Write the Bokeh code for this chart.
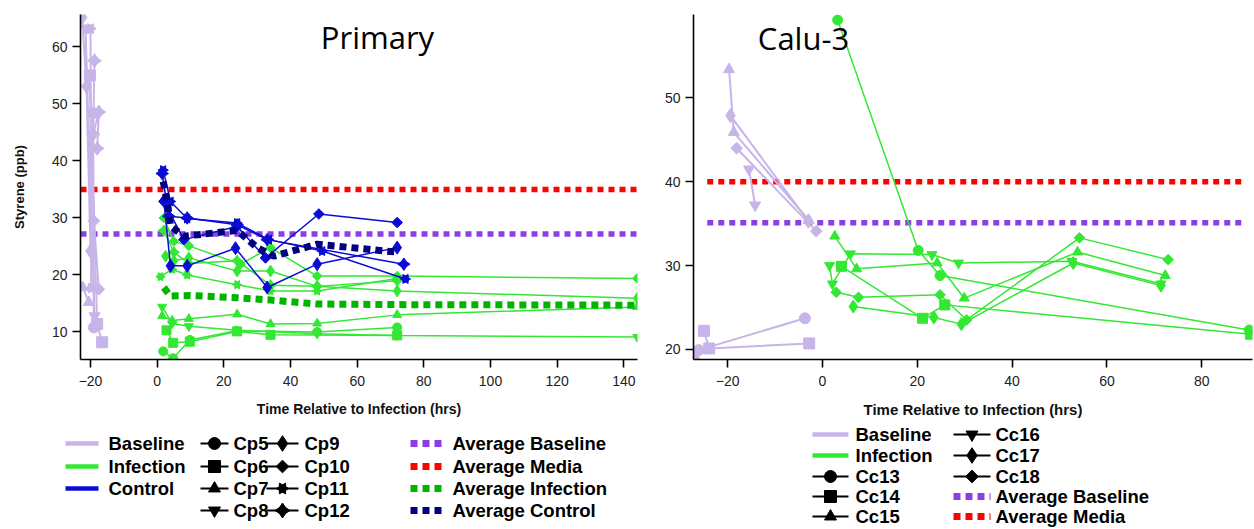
import numpy as np
from bokeh.plotting import figure
from bokeh.models import ColumnDataSource, Range1d, FixedTicker, Label
from bokeh.layouts import row, column
from bokeh.core.properties import value
from bokeh.embed import file_html
from bokeh.resources import INLINE

# ------------------------------------------------------------------
# DATA  -- Primary cells (Cp5..Cp12)
# ------------------------------------------------------------------
cp_markers = {"Cp5": "circle", "Cp6": "square", "Cp7": "triangle", "Cp8": "inverted_triangle",
              "Cp9": "thin_diamond", "Cp10": "diamond", "Cp11": "bowtie", "Cp12": "star4"}

prim_base_t = {"Cp5": [-19.2, -19.0], "Cp6": [-20.2, -18.0, -16.5], "Cp7": [-22.3, -20.5],
               "Cp8": [-21.5, -18.8], "Cp9": [-22.5, -21.2, -20.0], "Cp10": [-20.2, -19.0, -17.5],
               "Cp11": [-20.0, -19.8], "Cp12": [-18.8, -19.2, -17.5, -18.0]}
prim_base_y = {"Cp5": [48.4, 10.8], "Cp6": [55.0, 11.4, 8.2], "Cp7": [17.8, 15.2],
               "Cp8": [63.3, 12.8], "Cp9": [65.2, 53.1, 24.2], "Cp10": [55.0, 29.5, 17.5],
               "Cp11": [63.2, 17.7], "Cp12": [57.6, 44.7, 48.6, 42.2]}

prim_inf_t = {"Cp5": [1.8, 4.8, 9.8, 23.8, 48, 72], "Cp6": [2.8, 4.8, 9.8, 24, 34, 72],
              "Cp7": [1.5, 4.5, 9.5, 24, 34, 48, 72, 144], "Cp8": [1.5, 4.5, 9.5, 24, 48, 72, 144],
              "Cp9": [2.5, 5, 9.5, 24, 34, 48, 72, 144], "Cp10": [2, 5, 9.5, 25, 34, 48, 72, 144],
              "Cp11": [1, 4.5, 9, 24, 34, 48, 72], "Cp12": [2, 5, 9.5, 24, 34, 48, 72]}
prim_inf_y = {"Cp5": [6.6, 5.4, 8.6, 10.2, 10.0, 10.8], "Cp6": [10.3, 8.1, 8.3, 10.1, 9.5, 9.4],
              "Cp7": [12.8, 12.0, 12.3, 13.1, 11.4, 11.5, 13.0, 14.4],
              "Cp8": [14.4, 11.5, 11.0, 10.3, 9.7, 9.4, 9.1],
              "Cp9": [23.3, 22.5, 23.0, 20.7, 20.7, 18.0, 17.2, 15.9],
              "Cp10": [30.0, 25.9, 25.1, 21.9, 24.8, 19.8, 19.8, 19.4],
              "Cp11": [19.7, 21.0, 20.0, 18.3, 17.2, 17.2, 19.4],
              "Cp12": [27.8, 24.0, 22.0, 22.5, 18.2, 18.0, 19.0]}

prim_ctl_t = {"Cp9": [2, 4, 9, 23.5, 33, 48, 72], "Cp10": [2, 8, 24, 32.5, 48.5, 72],
              "Cp11": [1.8, 4, 9, 24, 33.5, 49.5, 74.5], "Cp12": [1.5, 3.5, 9, 24, 33, 74]}
prim_ctl_y = {"Cp9": [33.0, 21.6, 21.6, 24.7, 17.8, 21.9, 24.8], "Cp10": [32.9, 26.2, 28.5, 23.0, 30.7, 29.2],
              "Cp11": [38.4, 32.9, 29.9, 29.1, 26.2, 24.2, 19.3], "Cp12": [37.8, 30.3, 30.0, 28.8, 26.2, 21.9]}

prim_avg_inf_t = [2, 4, 10, 24, 34, 48, 72, 144]
prim_avg_inf_y = [17.8, 16.3, 16.4, 16.0, 15.6, 14.9, 14.8, 14.7]
prim_avg_ctl_t = [1.8, 3, 4, 8, 24, 30, 35, 48, 72]
prim_avg_ctl_y = [36.4, 33.0, 28.6, 26.8, 27.8, 24.8, 23.3, 25.4, 24.0]
prim_avg_baseline = 27.2
prim_avg_media = 35.0
prim_avg_extent = [-23.0, 144.0]

prim_x_ticks = [-20, 0, 20, 40, 60, 80, 100, 120, 140]
prim_y_ticks = [10, 20, 30, 40, 50, 60]

# ------------------------------------------------------------------
# DATA  -- Calu-3 cells (Cc13..Cc18)
# ------------------------------------------------------------------
cc_markers = {"Cc13": "circle", "Cc14": "square", "Cc15": "triangle", "Cc16": "inverted_triangle",
              "Cc17": "thin_diamond", "Cc18": "diamond"}

calu_base_t = {"Cc13": [-27.1, -26.1, -3.7], "Cc14": [-25.0, -23.9, -2.8], "Cc15": [-19.7, -18.7, -2.9],
               "Cc16": [-15.5, -14.2], "Cc17": [-19.4, -3.0], "Cc18": [-18.1, -1.3]}
calu_base_y = {"Cc13": [18.8, 19.9, 23.7], "Cc14": [22.2, 20.1, 20.7], "Cc15": [53.4, 45.9, 35.4],
               "Cc16": [41.5, 37.2], "Cc17": [47.9, 35.3], "Cc18": [44.0, 34.1]}

calu_inf_t = {"Cc13": [3.2, 20.2, 24.8, 90.0], "Cc14": [4.0, 21.1, 25.8, 90.3],
              "Cc15": [2.6, 7.2, 24.2, 29.9, 53.8, 72.3], "Cc16": [1.5, 2.1, 5.9, 23.1, 28.7, 52.6, 71.4],
              "Cc17": [6.5, 23.5, 29.3, 52.9, 71.4], "Cc18": [2.9, 7.6, 24.8, 30.4, 54.2, 72.9]}
calu_inf_y = {"Cc13": [59.3, 31.8, 28.8, 22.3], "Cc14": [29.9, 23.7, 25.3, 21.8],
              "Cc15": [33.5, 29.6, 30.3, 26.1, 31.6, 28.8], "Cc16": [30.0, 27.8, 31.4, 31.3, 30.3, 30.5, 27.8],
              "Cc17": [25.1, 23.8, 23.0, 30.3, 27.6], "Cc18": [26.8, 26.2, 26.5, 23.5, 33.3, 30.7]}

calu_avg_baseline = 35.1
calu_avg_media = 40.0
calu_avg_extent = [-24.3, 88.8]

calu_x_ticks = [-20, 0, 20, 40, 60, 80]
calu_y_ticks = [20, 30, 40, 50]

# ------------------------------------------------------------------
# STYLE
# ------------------------------------------------------------------
LAV = "#c7b4e8"
GRN = "#33e833"
BLU = "#0b0bd6"
C_AVG_BASE = "#8a3ee3"
C_AVG_MED = "#ff0000"
C_AVG_INF = "#00b400"
C_AVG_CTL = "#000080"
FONT = "Liberation Sans"


def add_markers(p, src, kind, color, size):
    kw = dict(source=src, fill_color=color, line_color=color)
    if kind == "diamond":
        p.scatter("t", "y", marker="square", angle=np.pi / 4, size=size * 0.75, **kw)
    elif kind == "thin_diamond":
        p.scatter("t", "y", marker="diamond", size=size * 1.3, **kw)
    elif kind == "bowtie":
        p.scatter("t", "y", marker="triangle", angle=np.pi / 2, size=size * 0.9, **kw)
        p.scatter("t", "y", marker="triangle", angle=-np.pi / 2, size=size * 0.9, **kw)
    elif kind == "star4":
        p.scatter("t", "y", marker="diamond", size=size * 1.25, **kw)
        p.scatter("t", "y", marker="diamond", angle=np.pi / 2, size=size * 1.25, **kw)
    else:
        p.scatter("t", "y", marker=kind, size=size, **kw)


def draw_series(p, t, y, color, kind, lw, size):
    src = ColumnDataSource(dict(t=t, y=y))
    p.line("t", "y", source=src, line_color=color, line_width=lw)
    add_markers(p, src, kind, color, size)


def style_axes(p, xticks, yticks):
    p.xaxis.ticker = FixedTicker(ticks=xticks)
    p.yaxis.ticker = FixedTicker(ticks=yticks)
    for ax in p.axis:
        ax.axis_line_width = 1.6
        ax.axis_line_color = "black"
        ax.major_tick_line_width = 1.6
        ax.major_tick_line_color = "black"
        ax.major_tick_out = 8
        ax.major_tick_in = 0
        ax.minor_tick_out = 0
        ax.minor_tick_in = 0
        ax.major_label_text_font = FONT
        ax.major_label_text_font_size = "14px"
        ax.major_label_text_color = "#222222"
    p.xaxis.major_label_standoff = 8
    p.yaxis.major_label_standoff = 5
    p.xgrid.visible = False
    p.ygrid.visible = False
    p.outline_line_color = None


# ------------------------------------------------------------------
# PRIMARY PANEL
# ------------------------------------------------------------------
p1 = figure(width=650, height=425, x_range=Range1d(-23.0, 144.1), y_range=Range1d(5.17, 65.7),
            toolbar_location=None, output_backend="svg",
            min_border_left=80, min_border_right=13, min_border_top=12, min_border_bottom=66)
style_axes(p1, prim_x_ticks, prim_y_ticks)
p1.xaxis.axis_label = "Time Relative to Infection (hrs)"
p1.yaxis.axis_label = "Styrene (ppb)"
for ax in (p1.xaxis[0], p1.yaxis[0]):
    ax.axis_label_text_font = FONT
    ax.axis_label_text_font_style = "bold"
    ax.axis_label_text_color = "#111111"
p1.xaxis.axis_label_text_font_size = "14px"
p1.xaxis.axis_label_standoff = 12
p1.yaxis.axis_label_text_font_size = "13px"
p1.yaxis.axis_label_standoff = 22

p1.line(prim_avg_extent, [prim_avg_media] * 2, line_color=C_AVG_MED, line_width=5.5, line_dash="6 5")
p1.line(prim_avg_extent, [prim_avg_baseline] * 2, line_color=C_AVG_BASE, line_width=5.5, line_dash="6 5")

for k in prim_base_t:
    draw_series(p1, prim_base_t[k], prim_base_y[k], LAV, cp_markers[k], 2, 11)
for k in prim_inf_t:
    draw_series(p1, prim_inf_t[k], prim_inf_y[k], GRN, cp_markers[k], 1.5, 9)
for k in prim_ctl_t:
    draw_series(p1, prim_ctl_t[k], prim_ctl_y[k], BLU, cp_markers[k], 1.5, 10)

p1.line(prim_avg_inf_t, prim_avg_inf_y, line_color=C_AVG_INF, line_width=7, line_dash="7 5")
p1.line(prim_avg_ctl_t, prim_avg_ctl_y, line_color=C_AVG_CTL, line_width=7, line_dash="7 5")

p1.add_layout(Label(x=66.1, y=61.7, text="Primary", text_align="center", text_baseline="alphabetic",
                    text_font="Open Sans", text_font_size="31px", text_color="black"))

# ------------------------------------------------------------------
# CALU-3 PANEL
# ------------------------------------------------------------------
p2 = figure(width=604, height=425, x_range=Range1d(-27.2, 90.7), y_range=Range1d(18.78, 59.96),
            toolbar_location=None, output_backend="svg",
            min_border_left=43, min_border_right=2, min_border_top=14, min_border_bottom=63)
style_axes(p2, calu_x_ticks, calu_y_ticks)
p2.xaxis.axis_label = "Time Relative to Infection (hrs)"
p2.xaxis.axis_label_text_font = FONT
p2.xaxis.axis_label_text_font_style = "bold"
p2.xaxis.axis_label_text_font_size = "15px"
p2.xaxis.axis_label_text_color = "#111111"
p2.xaxis.axis_label_standoff = 12

p2.line(calu_avg_extent, [calu_avg_media] * 2, line_color=C_AVG_MED, line_width=5.5, line_dash="6 5")
p2.line(calu_avg_extent, [calu_avg_baseline] * 2, line_color=C_AVG_BASE, line_width=5.5, line_dash="6 5")

for k in calu_base_t:
    draw_series(p2, calu_base_t[k], calu_base_y[k], LAV, cc_markers[k], 2, 11)
for k in calu_inf_t:
    draw_series(p2, calu_inf_t[k], calu_inf_y[k], GRN, cc_markers[k], 1.5, 10)

p2.add_layout(Label(x=-4.0, y=57.1, text="Calu-3", text_align="center", text_baseline="alphabetic",
                    text_font="Open Sans", text_font_size="31px", text_color="black"))

# ------------------------------------------------------------------
# LEGENDS (one full-width panel, pixel layout)
# ------------------------------------------------------------------
LEG_W, LEG_H = 1254, 104
L = figure(width=LEG_W, height=LEG_H, x_range=Range1d(0, LEG_W), y_range=Range1d(LEG_H, 0),
           toolbar_location=None, output_backend="svg", x_axis_type=None, y_axis_type=None,
           min_border=0)
L.xgrid.visible = False
L.ygrid.visible = False
L.outline_line_color = None


def leg_text(x, y, txt):
    L.text(x=[x], y=[y], text=[txt], text_font=value(FONT), text_font_style="bold",
           text_font_size="18.5px", text_baseline="middle", text_align="left", text_color="black")


def leg_line(x0, x1, y, color, lw=4.5):
    L.line([x0, x1], [y, y], line_color=color, line_width=lw)


def leg_marker(x0, x1, y, kind):
    L.line([x0, x1], [y, y], line_color="black", line_width=2)
    add_markers(L, ColumnDataSource(dict(t=[(x0 + x1) / 2], y=[y])), kind, "black", 12)


def leg_dots(x0, x1, y, color):
    L.line([x0, x1], [y, y], line_color=color, line_width=7, line_dash="7 5")


rows1 = [18, 41, 63, 85]
for (lab, col), yy in zip([("Baseline", LAV), ("Infection", GRN), ("Control", BLU)], rows1):
    leg_line(65, 98, yy, col)
    leg_text(108, yy, lab)
for k, yy in zip(["Cp5", "Cp6", "Cp7", "Cp8"], rows1):
    leg_marker(200, 228, yy, cp_markers[k])
    leg_text(233, yy, k)
for k, yy in zip(["Cp9", "Cp10", "Cp11", "Cp12"], rows1):
    leg_marker(266, 298, yy, cp_markers[k])
    leg_text(304, yy, k)
for (lab, col), yy in zip([("Average Baseline", C_AVG_BASE), ("Average Media", C_AVG_MED),
                           ("Average Infection", C_AVG_INF), ("Average Control", C_AVG_CTL)], rows1):
    leg_dots(410, 443, yy, col)
    leg_text(452, yy, lab)

rows2 = [9, 30, 51, 71, 91]
for (lab, col), yy in zip([("Baseline", LAV), ("Infection", GRN)], rows2[:2]):
    leg_line(812, 848, yy, col)
    leg_text(855, yy, lab)
for k, yy in zip(["Cc13", "Cc14", "Cc15"], rows2[2:]):
    leg_marker(812, 848, yy, cc_markers[k])
    leg_text(855, yy, k)
for k, yy in zip(["Cc16", "Cc17", "Cc18"], rows2[:3]):
    leg_marker(953, 990, yy, cc_markers[k])
    leg_text(995, yy, k)
for (lab, col), yy in zip([("Average Baseline", C_AVG_BASE), ("Average Media", C_AVG_MED)], rows2[3:]):
    leg_dots(953, 990, yy, col)
    leg_text(995, yy, lab)

layout = column(row(p1, p2), L)
open("out.html", "w").write(file_html(layout, INLINE))
